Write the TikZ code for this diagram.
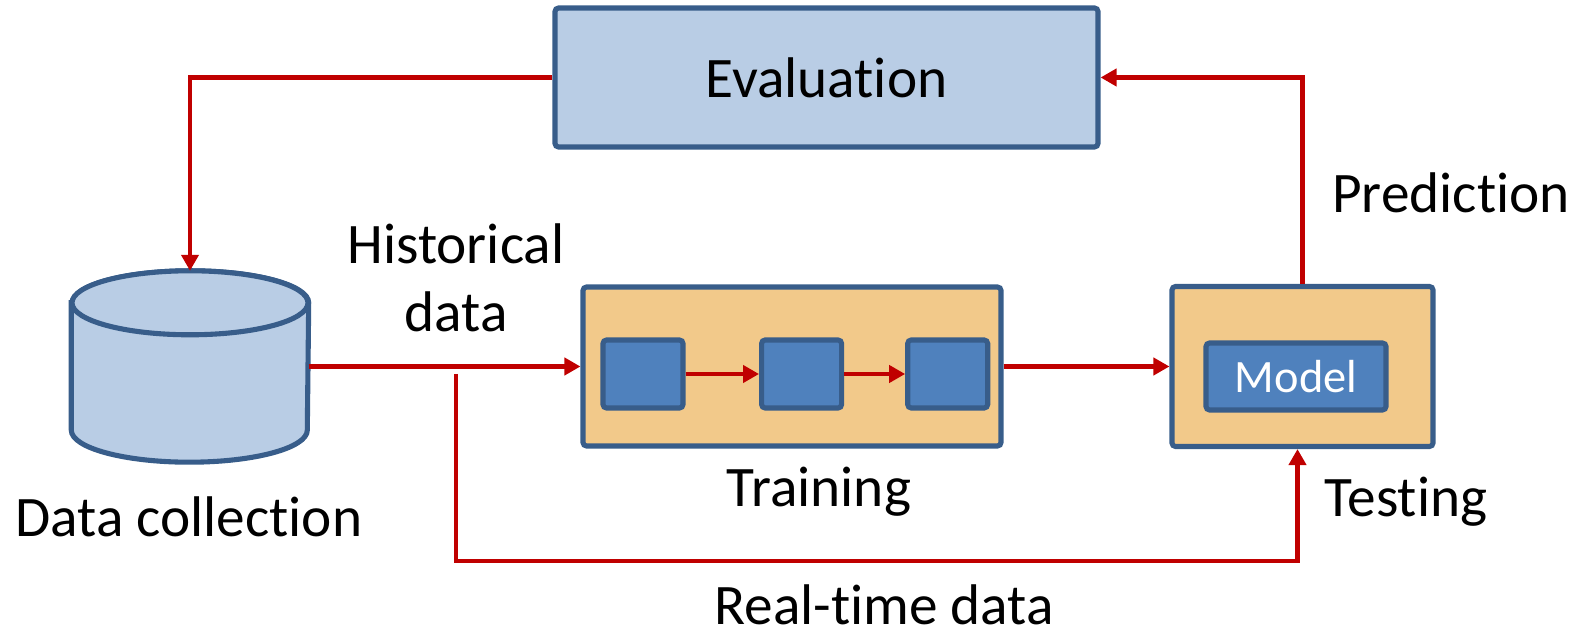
\documentclass[tikz,border=0pt]{standalone}
\usepackage{fontspec}
\setmainfont{Carlito}[Ligatures=CommonOff]
\usepackage{xcolor}
\usepackage{tikz}
\usetikzlibrary{arrows.meta, positioning, calc}
\definecolor{boxline}{RGB}{56,93,138}
\definecolor{lightfill}{RGB}{185,205,229}
\definecolor{stagefill}{RGB}{242,201,138}
\definecolor{blockfill}{RGB}{79,129,189}
\definecolor{flowred}{RGB}{192,0,0}
\tikzstyle{evalbox} = [rectangle, rounded corners=1pt, minimum width=5.43cm, minimum height=1.39cm, text centered, draw=boxline, fill=lightfill, line width=1.45pt]
\tikzstyle{stage}   = [rectangle, rounded corners=1pt, draw=boxline, fill=stagefill, line width=1.45pt]
\tikzstyle{block}   = [rectangle, rounded corners=1pt, minimum width=0.8cm, minimum height=0.68cm, text centered, draw=boxline, fill=blockfill, line width=1.45pt]
\tikzstyle{dbshape} = [draw=boxline, fill=lightfill, line width=1.45pt]
\tikzstyle{txt}     = [anchor=base, inner sep=0pt]
\tikzstyle{arrow}   = [draw=flowred, line width=1.3pt, -{Triangle[length=0.16cm, width=0.17cm]}]

\begin{document}
\begin{tikzpicture}[font=\fontsize{16.3}{19.6}\selectfont]
\useasboundingbox (0,0) rectangle (15.82,6.41);
\node (eval) [evalbox] at (8.265,5.635) {Evaluation};
\node (db) [minimum width=2.36cm, minimum height=1.90cm, inner sep=0pt] at (1.90,2.745) {};
\draw [dbshape] ($(db.north west)+(0,-0.32)$) -- ($(db.south west)+(0,0.32)$) arc[start angle=180, end angle=360, x radius=1.18cm, y radius=0.32cm] -- ($(db.north east)+(0,-0.32)$) arc[start angle=0, end angle=180, x radius=1.18cm, y radius=0.32cm] -- cycle;
\draw [dbshape] ($(db.north)+(0,-0.32)$) ellipse [x radius=1.18cm, y radius=0.32cm];
\node (train) [stage, minimum width=4.18cm, minimum height=1.59cm] at (7.92,2.745) {};
\node (s1) [block] at (6.43,2.67) {};
\node (s2) [block, right=0.735cm of s1] {};
\node (s3) [block, right=0.61cm of s2] {};
\node (test) [stage, minimum width=2.61cm, minimum height=1.60cm] at (13.025,2.745) {};
\node (model) [block, minimum width=1.80cm, minimum height=0.67cm, text=white, font=\fontsize{13.2}{15}\selectfont] at (12.96,2.645) {Model};
\coordinate (rt) at (4.56,2.67);
\coordinate (rtturn) at (4.56,0.80);

\node (histlbl) [txt, align=center] at (4.56,3.09) {Historical\\data};
\node (dclbl) [txt] at (1.89,1.04) {Data collection};
\node (trainlbl) [txt] at (8.19,1.34) {Training};
\node (testlbl) [txt] at (14.06,1.24) {Testing};
\node (predlbl) [txt] at (14.51,4.28) {Prediction};
\node (rtlbl) [txt] at (8.84,0.16) {Real-time data};

\draw [arrow] (eval.west) -| (db.north);
\draw [arrow] (db.east) -- (train.west);
\draw [arrow] (s1) -- (s2);
\draw [arrow] (s2) -- (s3);
\draw [arrow] (train.east) -- (test.west);
\draw [arrow] (test.north) |- (eval.east);
\draw [arrow] (rt) -- (rtturn) -| ([xshift=-0.05cm]test.south);
\end{tikzpicture}
\end{document}
